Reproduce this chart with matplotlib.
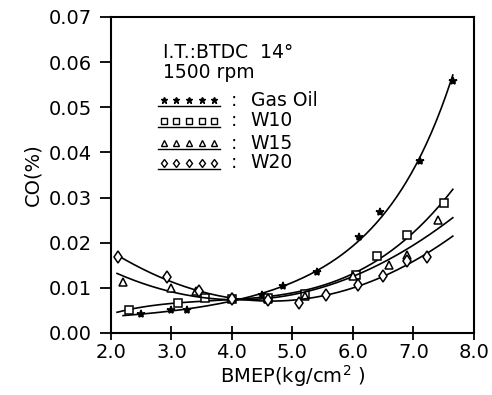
import numpy as np
import matplotlib
matplotlib.use("Agg")
import matplotlib.pyplot as plt

plt.rcParams["font.family"] = ["DejaVu Sans"]

# ---------------------------------------
# Data
# ---------------------------------------

gas_x = [2.5, 3.0, 3.25, 4.0, 4.5, 4.85, 5.4, 6.1, 6.45, 7.1, 7.65]
gas_y = [0.0043, 0.0050, 0.0050, 0.0072, 0.0085, 0.0104, 0.0135, 0.0212, 0.0268, 0.0381, 0.0558]

w10_x = [2.3, 3.1, 3.55, 4.0, 4.6, 5.2, 6.05, 6.4, 6.9, 7.5]
w10_y = [0.0050, 0.0066, 0.0078, 0.0075, 0.0078, 0.0087, 0.0129, 0.0170, 0.0217, 0.0288]

w15_x = [2.2, 3.0, 3.4, 4.0, 4.6, 5.2, 6.0, 6.6, 6.9, 7.4]
w15_y = [0.0112, 0.0100, 0.0093, 0.0080, 0.0076, 0.0082, 0.0127, 0.0151, 0.0173, 0.0251]

w20_x = [2.12, 2.93, 3.45, 4.0, 4.6, 5.1, 5.55, 6.09, 6.5, 6.9, 7.22]
w20_y = [0.0168, 0.0124, 0.0093, 0.0075, 0.0072, 0.0066, 0.0085, 0.0106, 0.0126, 0.0160, 0.0169]

# name, x, y, marker, curve start, fit type
series = [
    ("Gas Oil", gas_x, gas_y, "*", 2.2, "log2"),
    ("W10", w10_x, w10_y, "s", 2.1, "lin3"),
    ("W15", w15_x, w15_y, "^", 2.1, "lin2"),
    ("W20", w20_x, w20_y, "d", 2.1, "lin3"),
]

x_ticks = [2.0, 3.0, 4.0, 5.0, 6.0, 7.0, 8.0]
y_ticks = [0.00, 0.01, 0.02, 0.03, 0.04, 0.05, 0.06, 0.07]

# ---------------------------------------
# Plot
# ---------------------------------------

fig = plt.figure(figsize=(4.92, 3.95), dpi=100)
ax = fig.add_axes([0.2256, 0.157, 0.7378, 0.800])

for name, xs, ys, mk, x0, fit in series:
    xx = np.linspace(x0, 7.65, 200)
    if fit == "log2":
        coef = np.polyfit(xs, np.log(ys), 2)
        yy = np.exp(np.polyval(coef, xx))
    else:
        coef = np.polyfit(xs, ys, int(fit[-1]))
        yy = np.polyval(coef, xx)
    ax.plot(xx, yy, color="black", lw=1.2)
    ax.plot(xs, ys, linestyle="none", marker=mk, ms=6,
            mfc="white" if mk != "*" else "black", mec="black", mew=1.1)

fs = 14

# legend block drawn in axes coords
ax.text(0.143, 0.889, "I.T.:BTDC  14°", transform=ax.transAxes,
        fontsize=13.5, va="center", ha="left")
ax.text(0.143, 0.823, "1500 rpm", transform=ax.transAxes,
        fontsize=13.5, va="center", ha="left")

row_y = [0.737, 0.671, 0.601, 0.538]
mx = np.linspace(0.145, 0.285, 5)
for (name, xs, ys, mk, x0, fit), ry in zip(series, row_y):
    ax.plot(mx, [ry] * 5, linestyle="none", marker=mk, ms=4.5,
            mfc="white" if mk != "*" else "black", mec="black", mew=1.0,
            transform=ax.transAxes, clip_on=False)
    ax.plot([0.130, 0.300], [ry - 0.018, ry - 0.018], color="black", lw=1.0,
            transform=ax.transAxes)
    ax.text(0.330, ry, ":", transform=ax.transAxes, fontsize=13.5,
            va="center", ha="left")
    ax.text(0.385, ry, name, transform=ax.transAxes, fontsize=13.5,
            va="center", ha="left")

ax.set_xlim(2.0, 8.0)
ax.set_ylim(0.0, 0.07)
ax.set_xticks(x_ticks)
ax.set_yticks(y_ticks)
ax.set_xticklabels([f"{v:.1f}" for v in x_ticks])
ax.set_yticklabels([f"{v:.2f}" for v in y_ticks])

ax.tick_params(axis="x", direction="inout", length=10, width=1.3,
               labelsize=fs, pad=2)
ax.tick_params(axis="y", direction="out", length=8, width=1.3,
               labelsize=fs, pad=6)

for sp in ax.spines.values():
    sp.set_linewidth(1.5)

ax.set_xlabel("BMEP(kg/cm$^2$ )", fontsize=fs, labelpad=1)
ax.set_ylabel("CO(%)", fontsize=fs, labelpad=4)

plt.savefig("out.png", dpi=100)
plt.close()
